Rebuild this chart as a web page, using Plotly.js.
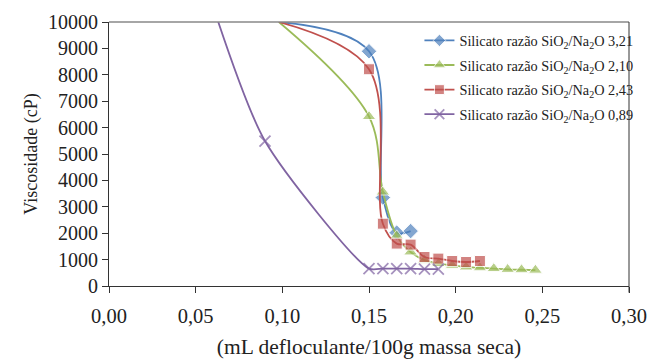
<!DOCTYPE html>
<html>
<head>
<meta charset="utf-8">
<script src="https://cdn.plot.ly/plotly-3.0.1.min.js"></script>
<style>html,body{margin:0;padding:0;background:#fff}#chart{width:651px;height:359px}</style>
</head>
<body>
<div id="chart"></div>
<script>
// Data
const names = [
  'Silicato razão SiO<sub>2</sub>/Na<sub>2</sub>O 3,21',
  'Silicato razão SiO<sub>2</sub>/Na<sub>2</sub>O 2,10',
  'Silicato razão SiO<sub>2</sub>/Na<sub>2</sub>O 2,43',
  'Silicato razão SiO<sub>2</sub>/Na<sub>2</sub>O 0,89'
];
const x321 = [0.098, 0.150, 0.158, 0.166, 0.174];
const y321 = [10000, 8890, 3350, 2020, 2080];
const x210 = [0.098, 0.150, 0.158, 0.166, 0.174, 0.182, 0.190, 0.198, 0.206, 0.214, 0.222, 0.230, 0.238, 0.246];
const y210 = [10000, 6420, 3560, 1900, 1290, 980, 850, 784, 720, 690, 659, 630, 615, 600];
const x243 = [0.098, 0.150, 0.158, 0.166, 0.174, 0.182, 0.190, 0.198, 0.206, 0.214];
const y243 = [10000, 8210, 2360, 1606, 1568, 1098, 1038, 947, 909, 947];
const x089 = [0.058, 0.090, 0.150, 0.158, 0.166, 0.174, 0.182, 0.190];
const y089 = [11000, 5490, 659, 659, 659, 659, 640, 640];
const xTicks = [0, 0.05, 0.10, 0.15, 0.20, 0.25, 0.30];
const yTicks = [0, 1000, 2000, 3000, 4000, 5000, 6000, 7000, 8000, 9000, 10000];

const YMAX = 10000;
function sizes(ys, s) { return ys.map(v => v >= YMAX ? 0 : s); }

const colors = ['#4F81BD', '#9BBB59', '#C0504D', '#8064A2'];
const font = 'Liberation Serif';

const traces = [
  {x: x321, y: y321, name: names[0], legendgroup: 'a',
   line: {color: colors[0], width: 1.8, shape: 'spline', smoothing: 1},
   marker: {symbol: 'diamond', size: sizes(y321, 12), color: colors[0]}},
  {x: x210, y: y210, name: names[1], legendgroup: 'b',
   line: {color: colors[1], width: 1.8, shape: 'spline', smoothing: 1},
   marker: {symbol: 'triangle-up', size: sizes(y210, 12), color: colors[1]}},
  {x: x243, y: y243, name: names[2], legendgroup: 'c',
   line: {color: colors[2], width: 1.8, shape: 'spline', smoothing: 1},
   marker: {symbol: 'square', size: sizes(y243, 11), color: colors[2]}},
  {x: x089, y: y089, name: names[3], legendgroup: 'd',
   line: {color: colors[3], width: 1.8, shape: 'spline', smoothing: 0.7},
   marker: {symbol: 'x-thin-open', size: sizes(y089, 11), color: colors[3], line: {color: colors[3], width: 1.8}}}
].map(t => Object.assign({type: 'scatter', mode: 'lines+markers', cliponaxis: true}, t));

const layout = {
  width: 651, height: 359,
  margin: {l: 109, r: 22, t: 22, b: 73},
  paper_bgcolor: '#ffffff', plot_bgcolor: '#ffffff',
  separators: ',.',
  font: {family: font, size: 19, color: '#222222'},
  showlegend: true,
  legend: {x: 0.597, y: 0.99, xanchor: 'left', yanchor: 'top',
           font: {family: font, size: 14.3, color: '#222222'},
           bgcolor: 'rgba(0,0,0,0)', tracegroupgap: 3, traceorder: 'grouped'},
  xaxis: {range: [0, 0.30], tickvals: xTicks, tickformat: '.2f',
          showgrid: false, zeroline: false, showline: true, linecolor: '#333333', linewidth: 1,
          ticks: 'outside', ticklen: 6, tickcolor: '#333333', ticklabelstandoff: 5,
          tickfont: {family: font, size: 20.5, color: '#222222'},
          title: {text: '(mL defloculante/100g massa seca)', font: {family: font, size: 21.5, color: '#222222'}, standoff: 14}},
  yaxis: {range: [0, 10000], tickvals: yTicks, tickformat: 'd', ticksuffix: '\u00a0',
          showgrid: false, zeroline: false, showline: true, linecolor: '#333333', linewidth: 1,
          ticks: 'outside', ticklen: 6, tickcolor: '#333333',
          tickfont: {family: font, size: 20, color: '#222222'},
          title: {text: 'Viscosidade (cP)', font: {family: font, size: 18, color: '#222222'}, standoff: 5}},
  shapes: [
    {type: 'line', xref: 'paper', yref: 'paper', x0: 0, x1: 1, y0: 1, y1: 1, line: {color: '#888888', width: 1.5}},
    {type: 'line', xref: 'paper', yref: 'paper', x0: 1, x1: 1, y0: -0.025, y1: 1, line: {color: '#333333', width: 1}}
  ]
};

Plotly.newPlot('chart', traces, layout, {displayModeBar: false, staticPlot: true});
</script>
</body>
</html>
